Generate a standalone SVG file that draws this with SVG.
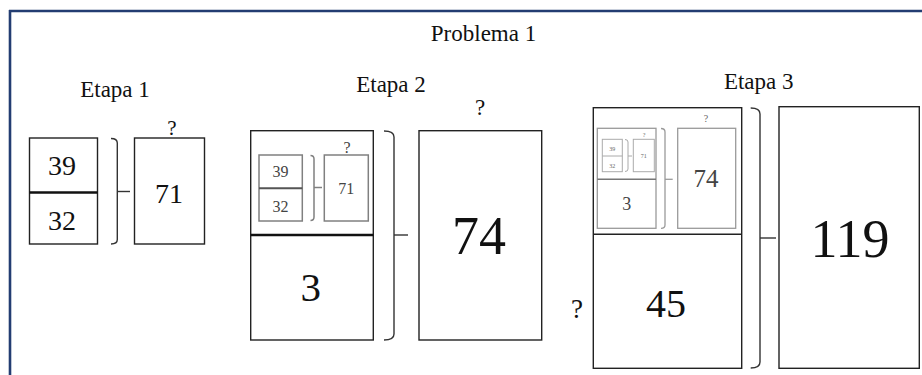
<svg xmlns="http://www.w3.org/2000/svg" width="922" height="375" viewBox="0 0 922 375" font-family="'Liberation Serif', 'DejaVu Serif', serif">
<style>
text{font-family:'Liberation Serif','DejaVu Serif',serif;fill:#111;text-anchor:middle}
.box{fill:none;stroke:#222;stroke-width:1.4}
.div{stroke:#111;stroke-width:2.6}
.br{fill:none;stroke:#333;stroke-width:1.4}
.g1{fill:none;stroke:#808080;stroke-width:1.5}
.g1d{stroke:#555;stroke-width:2}
.g2{fill:none;stroke:#9a9a9a;stroke-width:1.3}
.g2d{stroke:#777;stroke-width:1.6}
.g3{fill:none;stroke:#aaa;stroke-width:1}
.gt{fill:#444}
.gt2{fill:#666}
</style>
<rect width="922" height="375" fill="#fff"/>
<g id="frame">
<line x1="9" y1="11" x2="922" y2="11" stroke="#233d72" stroke-width="2.4"/>
<line x1="10" y1="10" x2="10" y2="375" stroke="#233d72" stroke-width="2.6"/>
<text x="483.5" y="41" font-size="23">Problema 1</text>
</g>

<g id="etapa1">
<text x="115" y="96.5" font-size="23">Etapa 1</text>
<g id="e1-left">
<rect class="box" x="29.5" y="138" width="68" height="106"/>
<line class="div" x1="29.5" y1="192.5" x2="97.5" y2="192.5"/>
<text x="62" y="175" font-size="28">39</text>
<text x="62" y="230" font-size="28">32</text>
</g>
<g id="e1-right">
<rect class="box" x="134.5" y="138" width="70" height="106"/>
<text x="169" y="202.5" font-size="28">71</text>
<text x="172" y="135" font-size="21">?</text>
</g>
</g>

<g id="etapa2">
<text x="391" y="91.7" font-size="23">Etapa 2</text>
<g id="e2-left">
<rect class="box" x="250.7" y="130.7" width="122.6" height="209.3"/>
<line class="div" x1="250.7" y1="235" x2="373.3" y2="235"/>
<text x="310.7" y="301" font-size="41">3</text>
<g id="e2-inner">
<rect class="g1" x="259" y="155" width="43.3" height="66"/>
<line class="g1d" x1="259" y1="188.3" x2="302.3" y2="188.3"/>
<text class="gt" x="280.5" y="177" font-size="16">39</text>
<text class="gt" x="280.5" y="211.5" font-size="16">32</text>
<rect class="g1" x="324.3" y="155" width="44" height="66"/>
<text class="gt" x="346.3" y="194" font-size="16">71</text>
<text class="gt" x="347" y="153" font-size="16">?</text>
</g>
</g>
<g id="e2-right">
<rect class="box" x="419" y="130.7" width="122.7" height="209.3"/>
<text x="479" y="254" font-size="54">74</text>
<text x="480" y="115" font-size="23">?</text>
</g>
</g>

<g id="etapa3">
<text x="758.7" y="89.3" font-size="23">Etapa 3</text>
<g id="e3-left">
<rect class="box" x="593.3" y="107.7" width="148.4" height="260.6"/>
<line stroke="#222" stroke-width="1.6" x1="593.3" y1="234.3" x2="741.7" y2="234.3"/>
<text x="666" y="316.7" font-size="40">45</text>
<text x="577" y="318" font-size="27">?</text>
<g id="e3-inner">
<rect class="g2" x="597.3" y="128.3" width="58.7" height="100"/>
<line class="g2d" x1="597.3" y1="179.3" x2="656" y2="179.3"/>
<text class="gt" x="626.7" y="210" font-size="18">3</text>
<rect class="g2" x="677.7" y="128.3" width="58" height="100"/>
<text class="gt" x="706" y="187.3" font-size="25">74</text>
<text class="gt2" x="706" y="121.7" font-size="10">?</text>
<g id="e3-inner2">
<rect class="g3" x="602.3" y="139.3" width="20" height="32.4"/>
<line class="g3" x1="602.3" y1="156" x2="622.3" y2="156"/>
<text class="gt2" x="612.3" y="150.5" font-size="6">39</text>
<text class="gt2" x="612.3" y="167.5" font-size="6">32</text>
<rect class="g3" x="633.3" y="139.3" width="21" height="32.4"/>
<text class="gt2" x="643.8" y="158.3" font-size="6">71</text>
<text class="gt2" x="644" y="137" font-size="6">?</text>
</g>
</g>
</g>
<g id="e3-right">
<rect class="box" x="779" y="106.7" width="140.3" height="261.6"/>
<text x="850" y="256.7" font-size="54">119</text>
</g>
</g>

<g id="connectors">
<path class="br" d="M111 138.5 Q117.3 138.5 117.3 143 V239.5 Q117.3 244 111 244"/>
<line class="br" x1="117.3" y1="191.5" x2="130" y2="191.5"/>
<path class="g1" d="M310.5 155.5 Q314 155.5 314 159 V217 Q314 220.5 310.5 220.5"/>
<line class="g1" x1="314" y1="187.5" x2="322" y2="187.5"/>
<path class="br" d="M384 131 Q394 131 394 137 V334 Q394 340 384 340"/>
<line class="br" x1="394" y1="235" x2="408" y2="235"/>
<path class="g3" d="M625 139.5 Q628 139.5 628 142 V169 Q628 171.5 625 171.5"/>
<line class="g3" x1="628" y1="156" x2="632" y2="156"/>
<path class="g2" d="M661 128.5 Q665 128.5 665 132 V225 Q665 228.3 661 228.3"/>
<line class="g2" x1="665" y1="179.3" x2="672.7" y2="179.3"/>
<path class="br" d="M750.7 108 Q760 108 760 114 V362 Q760 368 750.7 368"/>
<line class="br" x1="760" y1="238" x2="776" y2="238"/>
</g>
</svg>
